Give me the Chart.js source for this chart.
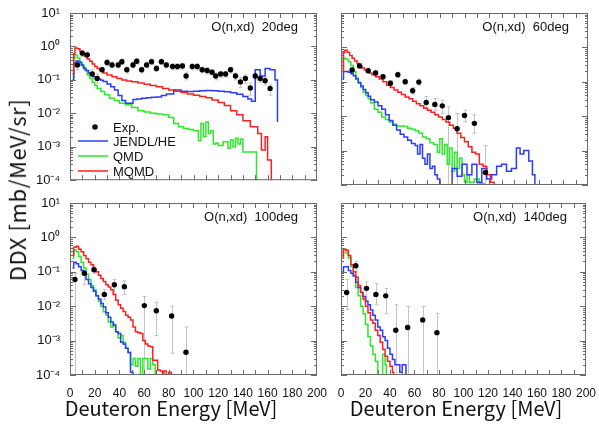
<!DOCTYPE html>
<html>
<head>
<meta charset="utf-8">
<script src="https://cdn.jsdelivr.net/npm/chart.js@4.4.0/dist/chart.umd.min.js"></script>
<style>
  body { margin: 0; background: #fff; }
  #page { position: relative; width: 599px; height: 427px; overflow: hidden; font-family: "Liberation Sans", Arial, sans-serif; }
  canvas { position: absolute; }
  .xtitle { position: absolute; top: 393px; font-family: "Noto Sans CJK JP", sans-serif; font-size: 20px; color: #111; white-space: nowrap; transform: translateX(-50%); }
  .ytitle { position: absolute; left: 16px; top: 190px; font-family: "Noto Sans CJK JP", sans-serif; font-size: 22px; letter-spacing: 0.6px; color: #111; white-space: nowrap; transform: translate(-50%, -50%) rotate(-90deg); }
</style>
</head>
<body>
<div id="page">
  <canvas id="p20" width="310" height="190" style="left:20px;top:0px"></canvas>
  <canvas id="p60" width="266" height="190" style="left:333px;top:0px"></canvas>
  <canvas id="p100" width="310" height="210" style="left:20px;top:190px"></canvas>
  <canvas id="p140" width="266" height="210" style="left:333px;top:190px"></canvas>
  <div class="xtitle" style="left:171px">Deuteron Energy [MeV]</div>
  <div class="xtitle" style="left:456px">Deuteron Energy [MeV]</div>
  <div class="ytitle">DDX [mb/MeV/sr]</div>
</div>
<script>
// Axis ticks
var energyTicks = [0, 20, 40, 60, 80, 100, 120, 140, 160, 180, 200];
var ddxDecades = [1e-4, 1e-3, 1e-2, 1e-1, 1, 10];
var seriesNames = ['Exp.', 'JENDL/HE', 'QMD', 'MQMD'];

// ---- 20 deg ----
var exp20E = [6,10,14,18,22,26,30,34,39,42,46,51,54,58,62,66,70,74,78,83,87,91,94,99,103,107,111,115,118,122,126,130,134,138,142,146,150,154,158,162];
var exp20V = [0.28,0.63,0.56,0.15,0.11,0.20,0.33,0.28,0.28,0.35,0.20,0.28,0.36,0.20,0.28,0.35,0.22,0.35,0.28,0.25,0.25,0.26,0.13,0.25,0.25,0.20,0.19,0.17,0.13,0.15,0.15,0.20,0.13,0.087,0.11,0.057,0.13,0.11,0.094,0.055];
var exp20Lo = [0.2,0.5,0.45,0.11,0.08,0.16,0.27,0.23,0.23,0.29,0.16,0.23,0.3,0.16,0.23,0.29,0.18,0.29,0.23,0.2,0.2,0.21,0.1,0.2,0.2,0.16,0.15,0.14,0.1,0.12,0.12,0.16,0.1,0.06,0.08,0.035,0.1,0.085,0.07,0.035];
var exp20Hi = [0.38,0.78,0.68,0.2,0.15,0.24,0.4,0.34,0.34,0.42,0.24,0.34,0.43,0.24,0.34,0.42,0.27,0.42,0.34,0.3,0.3,0.31,0.17,0.3,0.3,0.24,0.23,0.2,0.16,0.18,0.18,0.24,0.16,0.12,0.14,0.08,0.16,0.14,0.12,0.075];
var jendl20E = [2,3,5,7,9,11,13,15,17,19,21,23,25,27,30,33,36,39,42,45,48,51,54,58,62,66,70,74,78,84,90,95,100,105,110,115,120,125,130,135,140,144,147,150,154,158,162,166,168];
var jendl20V = [0.1,0.32,0.37,0.34,0.28,0.22,0.19,0.16,0.14,0.125,0.115,0.105,0.097,0.09,0.075,0.062,0.05,0.034,0.024,0.02,0.02,0.026,0.027,0.028,0.029,0.03,0.031,0.034,0.038,0.05,0.046,0.045,0.046,0.047,0.048,0.047,0.046,0.044,0.041,0.037,0.032,0.027,0.023,0.2,0.13,0.22,0.2,0.1];
var jendl20End = 0.0055;
var qmd20E = [2,3,4,6,8,10,12,14,16,18,20,22,25,28,32,36,40,45,50,55,60,65,70,75,80,84,88,92,96,100,104,106,108,110,112,114,116,118,120,124,128,130,132,134,136,138,140,145,151];
var qmd20V = [0.12,0.45,0.55,0.45,0.33,0.25,0.19,0.14,0.11,0.085,0.068,0.055,0.045,0.036,0.028,0.024,0.02,0.018,0.015,0.012,0.011,0.01,0.0095,0.009,0.0075,0.005,0.004,0.0035,0.0033,0.003,0.0015,0.005,0.002,0.0055,0.0025,0.003,0.0012,0.0013,0.0011,0.0014,0.0009,0.0016,0.001,0.0018,0.0012,0.0017,0.0007,0.0007];
var mqmd20E = [2,3,4,6,8,10,12,14,16,18,20,22,24,27,30,34,38,42,46,50,55,60,65,70,75,80,85,90,95,100,105,110,115,120,125,130,135,140,146,152,155,158,160,163];
var mqmd20V = [0.15,0.6,0.9,0.85,0.7,0.6,0.5,0.42,0.36,0.3,0.25,0.22,0.19,0.16,0.14,0.125,0.11,0.1,0.092,0.088,0.08,0.074,0.068,0.062,0.055,0.05,0.046,0.042,0.038,0.035,0.032,0.029,0.025,0.021,0.017,0.012,0.009,0.006,0.004,0.0025,0.0008,0.002,0.0004];

// ---- 60 deg ----
var exp60E = [9,15,22,28,34,40,46,52,58,63,69,76,82,87,94,100,108,117];
var exp60V = [0.22,0.29,0.21,0.18,0.14,0.091,0.16,0.10,0.055,0.098,0.025,0.022,0.020,0.0091,0.0043,0.0105,0.0062,0.00023];
var exp60Lo = [0.18,0.25,0.18,0.155,0.12,0.077,0.135,0.085,0.044,0.08,0.017,0.015,0.012,0.00001,0.00001,0.0069,0.0032,0.00001];
var exp60Hi = [0.26,0.34,0.25,0.21,0.165,0.107,0.19,0.12,0.068,0.12,0.037,0.033,0.029,0.019,0.012,0.015,0.011,0.0014];
var jendl60E = [1,2,4,6,8,10,12,14,16,18,20,22,24,27,30,33,36,39,42,45,48,51,54,57,60,62,64,66,68,70,72,74,76,78,80,82,90,94,98,102,106,110,114,118,122,126,130,134,138,142,145,148,152,155,157];
var jendl60V = [0.12,0.2,0.2,0.19,0.17,0.15,0.12,0.095,0.075,0.06,0.048,0.038,0.03,0.026,0.02,0.016,0.011,0.0075,0.0055,0.004,0.003,0.0025,0.002,0.0016,0.0014,0.0008,0.0015,0.0006,0.0004,0.0008,0.0003,0.00035,0.0002,0.00015,0.0001,0.00005,0.0003,0.00018,0.0004,0.0002,0.0004,0.00012,0.0003,0.00015,0.0002,0.00035,0.0004,0.00025,0.0003,0.0012,0.0008,0.001,0.0005,0.0002];
var qmd60E = [1,2,4,6,8,10,12,14,16,18,20,22,24,27,30,33,36,39,42,45,48,51,54,57,60,63,66,69,72,75,78,80,82,84,86,88,90,92,94,96,98,100,102,104,108,112,116,120];
var qmd60V = [0.25,0.48,0.45,0.38,0.3,0.2,0.13,0.09,0.068,0.05,0.04,0.032,0.024,0.016,0.013,0.0095,0.008,0.0068,0.0058,0.0052,0.0052,0.005,0.0045,0.0042,0.0038,0.0032,0.0025,0.0022,0.0017,0.0015,0.0009,0.0022,0.0008,0.0015,0.0004,0.0012,0.00025,0.0009,0.0003,0.0006,0.0002,0.00012,0.0002,0.00012,0.00015,0.00011,0.00005];
var mqmd60E = [1,2,3,5,7,9,11,13,15,17,19,21,23,25,28,31,34,37,40,43,46,49,52,55,58,61,64,67,70,73,76,79,82,85,88,91,94,97,100,103,106,109,112,115,118,121,124];
var mqmd60V = [0.2,0.7,0.83,0.72,0.58,0.48,0.4,0.34,0.29,0.25,0.22,0.2,0.18,0.16,0.14,0.12,0.1,0.08,0.068,0.058,0.05,0.043,0.036,0.032,0.027,0.023,0.02,0.017,0.015,0.013,0.011,0.0095,0.008,0.0068,0.0055,0.0045,0.0032,0.0024,0.0018,0.0013,0.0009,0.0008,0.0004,0.00035,0.0002,0.00012];

// ---- 100 deg ----
var exp100E = [4,11.6,19.4,27.8,35.9,44,60.2,69.9,82.3,93.9];
var exp100V = [0.06,0.091,0.115,0.022,0.042,0.037,0.0104,0.0074,0.0052,0.00046];
var exp100Lo = [0.00001,0.042,0.09,0.015,0.024,0.022,0.00001,0.0014,0.00043,0.00001];
var exp100Hi = [0.09,0.11,0.14,0.03,0.06,0.055,0.019,0.013,0.01,0.0025];
var jendl100E = [2,3,5,7,9,11,13,15,17,19,21,23,25,27,29,31,33,35,37,39,41,43,45,47,49,51];
var jendl100V = [0.13,0.19,0.17,0.14,0.11,0.085,0.06,0.045,0.035,0.027,0.02,0.016,0.012,0.0095,0.0065,0.0048,0.0035,0.0028,0.0018,0.0016,0.0009,0.0008,0.0006,0.00045,0.00012];
var qmd100E = [2,3,5,7,9,11,13,15,17,19,21,23,25,27,29,31,33,35,37,39,41,43,45,47,49,51,53,55,57,59,61,63,65,67,69,71];
var qmd100V = [0.25,0.43,0.38,0.28,0.19,0.13,0.085,0.06,0.04,0.03,0.02,0.014,0.01,0.0069,0.0055,0.0035,0.0025,0.003,0.0018,0.0012,0.0014,0.0009,0.0006,0.00045,0.0002,0.0003,0.00018,0.0003,0.00008,0.0003,0.0003,0.00015,0.0003,0.0002,0.00005];
var mqmd100E = [2,3,5,7,9,11,13,15,17,19,21,23,25,27,29,31,33,35,37,39,41,43,45,47,49,51,53,55,57,59,61,63,65,67,69,71,73,75,76,78,80,82];
var mqmd100V = [0.3,0.52,0.55,0.45,0.38,0.3,0.24,0.19,0.16,0.12,0.1,0.08,0.064,0.052,0.042,0.036,0.03,0.022,0.015,0.011,0.0087,0.007,0.0055,0.0048,0.004,0.0025,0.0018,0.0017,0.0016,0.001,0.0008,0.0007,0.00066,0.00027,0.00027,0.00014,0.00013,0.00008,0.00013,0.00008,0.00012];

// ---- 140 deg ----
var exp140E = [4.6,12.1,20.8,28.5,36.5,44.7,54.4,66.7,78.3];
var exp140V = [0.025,0.15,0.033,0.022,0.02,0.002,0.0024,0.004,0.0017];
var exp140Lo = [0.008,0.1,0.015,0.011,0.006,0.00001,0.00001,0.00001,0.00001];
var exp140Hi = [0.06,0.2,0.051,0.046,0.033,0.011,0.0098,0.0098,0.0062];
var jendl140E = [1,2,4,6,8,10,12,14,16,18,20,22,24,26,28,30,32,34,36,38,40,42,44,48,50,53];
var jendl140V = [0.1,0.14,0.14,0.11,0.09,0.075,0.05,0.035,0.025,0.019,0.014,0.011,0.0078,0.0055,0.004,0.0025,0.002,0.0013,0.001,0.0006,0.0004,0.00028,0.0002,0.00012,0.0002];
var qmd140E = [1,2,4,6,8,10,12,14,16,18,20,22,24,26,28,30,34,36,37];
var qmd140V = [0.3,0.45,0.35,0.25,0.14,0.08,0.035,0.02,0.01,0.006,0.003,0.0013,0.0007,0.0004,0.00025,0.00003,0.0004,0.0002];
var mqmd140E = [1,2,4,6,8,10,12,14,16,18,20,22,24,26,28,30,32,34,36,38,40,42,43];
var mqmd140V = [0.25,0.45,0.42,0.3,0.16,0.1,0.07,0.04,0.025,0.016,0.01,0.0065,0.004,0.0032,0.002,0.0014,0.0009,0.00055,0.00035,0.00025,0.00018,0.00012];

var colors = { exp: '#000000', jendl: '#2a3cff', qmd: '#2ee82e', mqmd: '#ff1f1f' };
var DROP = 1e-6;

/**
 * Histogram bins -> points for a stepped line.
 * Each point holds the value of the bin starting at its x.
 */
function histogram(edges, vals, endVal) {
    var pts = [];
    for (var i = 0; i < vals.length; i++) {
        pts.push({ x: edges[i], y: vals[i] });
    }
    pts.push({ x: edges[edges.length - 1], y: endVal === undefined ? DROP : endVal });
    return pts;
}

function points(xs, ys) {
    return xs.map(function(x, i) { return { x: x, y: ys[i] }; });
}

function sup(n) {
    var map = { '-': '\u207B', '0': '\u2070', '1': '\u00B9', '2': '\u00B2', '3': '\u00B3', '4': '\u2074' };
    return String(n).split('').map(function(c) { return map[c]; }).join('');
}

// Frame and inward tick marks on all four sides
var framePlugin = {
    id: 'frame',
    afterDatasetsDraw: function(chart) {
        var ctx = chart.ctx, a = chart.chartArea, x = chart.scales.x, y = chart.scales.y;
        ctx.save();
        ctx.strokeStyle = '#6a6a6a';
        ctx.lineWidth = 1;
        ctx.strokeRect(a.left + 0.5, a.top + 0.5, a.right - a.left - 1, a.bottom - a.top - 1);
        ctx.beginPath();
        for (var e = 10; e < 200; e += 10) {
            var px = Math.round(x.getPixelForValue(e)) + 0.5;
            ctx.moveTo(px, a.bottom); ctx.lineTo(px, a.bottom - 5);
            ctx.moveTo(px, a.top); ctx.lineTo(px, a.top + 5);
        }
        ddxDecades.forEach(function(d) {
            if (d >= 10) { return; }
            for (var m = 1; m < 10; m++) {
                var py = Math.round(y.getPixelForValue(m * d)) + 0.5;
                var len = m === 1 ? 6 : 3;
                ctx.moveTo(a.left, py); ctx.lineTo(a.left + len, py);
                ctx.moveTo(a.right, py); ctx.lineTo(a.right - len, py);
            }
        });
        ctx.stroke();
        ctx.restore();
    }
};

// Vertical error bars for the experimental points
var errorBarPlugin = {
    id: 'errbars',
    beforeDatasetsDraw: function(chart, args, opts) {
        if (!opts.x) { return; }
        var ctx = chart.ctx, a = chart.chartArea, x = chart.scales.x, y = chart.scales.y;
        ctx.save();
        ctx.beginPath();
        ctx.rect(a.left, a.top, a.right - a.left, a.bottom - a.top);
        ctx.clip();
        ctx.strokeStyle = '#c4c4c4';
        ctx.lineWidth = 1;
        ctx.beginPath();
        opts.x.forEach(function(e, i) {
            var px = Math.round(x.getPixelForValue(e)) + 0.5;
            var top = y.getPixelForValue(opts.hi[i]);
            var bot = y.getPixelForValue(opts.lo[i]);
            ctx.moveTo(px, top); ctx.lineTo(px, bot);
            ctx.moveTo(px - 2, top); ctx.lineTo(px + 2, top);
            ctx.moveTo(px - 2, bot); ctx.lineTo(px + 2, bot);
        });
        ctx.stroke();
        ctx.restore();
    }
};

// Panel caption and (optional) legend inside the plot
var captionPlugin = {
    id: 'caption',
    afterDraw: function(chart, args, opts) {
        var ctx = chart.ctx, a = chart.chartArea;
        ctx.save();
        ctx.fillStyle = '#111';
        ctx.font = '13px "Liberation Sans", Arial, sans-serif';
        ctx.textAlign = 'right';
        ctx.textBaseline = 'middle';
        ctx.fillText(opts.text, a.right - 19, a.top + 14);
        if (opts.legend) {
            var lx = a.left, ly = a.top;
            ctx.textAlign = 'left';
            ctx.beginPath();
            ctx.arc(lx + 25, ly + 114, 2.8, 0, Math.PI * 2);
            ctx.fill();
            ctx.fillText(seriesNames[0], lx + 43, ly + 115);
            var lineCols = [colors.jendl, colors.qmd, colors.mqmd];
            [128, 143, 158].forEach(function(dy, i) {
                ctx.strokeStyle = lineCols[i];
                ctx.lineWidth = 1.5;
                ctx.beginPath();
                ctx.moveTo(lx + 8, ly + dy); ctx.lineTo(lx + 38, ly + dy);
                ctx.stroke();
                ctx.fillText(seriesNames[i + 1], lx + 43, ly + dy + 1);
            });
        }
        ctx.restore();
    }
};

function lineSet(label, data, color, order) {
    return {
        type: 'line', label: label, data: data, stepped: true,
        borderColor: color, borderWidth: 1.5, pointRadius: 0, fill: false, order: order
    };
}

function makePanel(id, cfg) {
    var ctx = document.getElementById(id).getContext('2d');
    return new Chart(ctx, {
        type: 'line',
        data: {
            datasets: [
                {
                    type: 'scatter', label: seriesNames[0], data: cfg.exp,
                    backgroundColor: colors.exp, borderColor: colors.exp, borderWidth: 0,
                    pointRadius: 2.7, showLine: false, order: 0
                },
                lineSet(seriesNames[3], cfg.mqmd, colors.mqmd, 1),
                lineSet(seriesNames[1], cfg.jendl, colors.jendl, 2),
                lineSet(seriesNames[2], cfg.qmd, colors.qmd, 3)
            ]
        },
        options: {
            responsive: false,
            animation: false,
            layout: { padding: { top: 13, right: cfg.left ? 13 : 11, left: 0, bottom: 0 } },
            plugins: {
                legend: { display: false },
                tooltip: { enabled: false },
                errbars: cfg.err,
                caption: { text: cfg.caption, legend: !!cfg.legend }
            },
            scales: {
                x: {
                    type: 'linear', min: 0, max: 200,
                    grid: { display: false }, border: { display: false },
                    afterBuildTicks: function(scale) {
                        scale.ticks = energyTicks.map(function(v) { return { value: v }; });
                    },
                    afterFit: function(scale) { scale.height = cfg.bottom ? 25 : 5; },
                    ticks: {
                        display: !!cfg.bottom, maxRotation: 0, autoSkip: false, padding: 3,
                        color: '#111', font: { size: 12, family: '"Liberation Sans", Arial, sans-serif' }
                    }
                },
                y: {
                    type: 'logarithmic', min: 1e-4, max: 10,
                    grid: { display: false }, border: { display: false },
                    afterBuildTicks: function(scale) {
                        scale.ticks = ddxDecades.map(function(v) { return { value: v }; });
                    },
                    afterFit: function(scale) { scale.width = cfg.left ? 50 : 8; },
                    ticks: {
                        display: !!cfg.left, padding: 2, color: '#111',
                        font: { size: 13, family: '"Liberation Sans", Arial, sans-serif' },
                        callback: function(v) { return '10' + sup(Math.round(Math.log10(v))); }
                    }
                }
            }
        },
        plugins: [errorBarPlugin, framePlugin, captionPlugin]
    });
}

makePanel('p20', {
    left: true, bottom: false, legend: true, caption: 'O(n,xd)  20deg',
    exp: points(exp20E, exp20V),
    err: { x: exp20E, lo: exp20Lo, hi: exp20Hi },
    jendl: histogram(jendl20E, jendl20V, jendl20End),
    qmd: histogram(qmd20E, qmd20V),
    mqmd: histogram(mqmd20E, mqmd20V)
});
makePanel('p60', {
    left: false, bottom: false, caption: 'O(n,xd)  60deg',
    exp: points(exp60E, exp60V),
    err: { x: exp60E, lo: exp60Lo, hi: exp60Hi },
    jendl: histogram(jendl60E, jendl60V),
    qmd: histogram(qmd60E, qmd60V),
    mqmd: histogram(mqmd60E, mqmd60V)
});
makePanel('p100', {
    left: true, bottom: true, caption: 'O(n,xd)  100deg',
    exp: points(exp100E, exp100V),
    err: { x: exp100E, lo: exp100Lo, hi: exp100Hi },
    jendl: histogram(jendl100E, jendl100V),
    qmd: histogram(qmd100E, qmd100V),
    mqmd: histogram(mqmd100E, mqmd100V)
});
makePanel('p140', {
    left: false, bottom: true, caption: 'O(n,xd)  140deg',
    exp: points(exp140E, exp140V),
    err: { x: exp140E, lo: exp140Lo, hi: exp140Hi },
    jendl: histogram(jendl140E, jendl140V),
    qmd: histogram(qmd140E, qmd140V),
    mqmd: histogram(mqmd140E, mqmd140V)
});
</script>
</body>
</html>
